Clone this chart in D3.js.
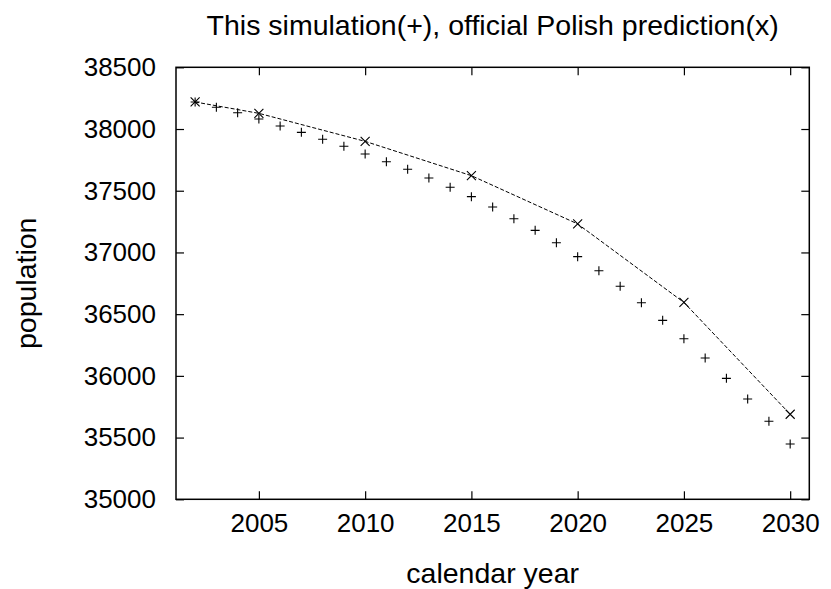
<!DOCTYPE html>
<html>
<head>
<meta charset="utf-8">
<script src="https://cdn.jsdelivr.net/npm/d3@7"></script>
<style>
  body { margin: 0; background: #fff; }
  text { font-family: "Liberation Sans", Arial, sans-serif; fill: #000; }
</style>
</head>
<body>
<div class="chart"></div>
<script>
// data
const years = [2002, 2003, 2004, 2005, 2006, 2007, 2008, 2009, 2010, 2011,
               2012, 2013, 2014, 2015, 2016, 2017, 2018, 2019, 2020, 2021,
               2022, 2023, 2024, 2025, 2026, 2027, 2028, 2029, 2030];
const simPop = [38219, 38176, 38132, 38081, 38024, 37973, 37917, 37860, 37798, 37735,
                37674, 37603, 37528, 37452, 37368, 37273, 37179, 37079, 36966, 36852,
                36726, 36593, 36450, 36301, 36145, 35980, 35813, 35632, 35448];
const officialYears = [2002, 2005, 2010, 2015, 2020, 2025, 2030];
const officialPop = [38219, 38127, 37900, 37622, 37231, 36595, 35689];
const xTicks = [2005, 2010, 2015, 2020, 2025, 2030];
const yTicks = [35000, 35500, 36000, 36500, 37000, 37500, 38000, 38500];

const margin = {top: 67.3, left: 176, right: 21.7, bottom: 89.7};
const W = 831, H = 589;
const width = W - margin.left - margin.right,
    height = H - margin.top - margin.bottom;

const svg = d3.select(".chart")
    .append("svg")
    .attr("width", W)
    .attr("height", H);

const gr = svg.append("g")
    .attr("transform", "translate(" + margin.left + "," + margin.top + ")");

const xScale = d3.scaleLinear()
    .domain([2001.1, 2030.9])
    .range([0, width]);

const yScale = d3.scaleLinear()
    .domain([35000, 38500])
    .range([height, 0]);

// axes, gnuplot style: ticks inward on all four sides
const fs = "26px";
gr.append("g")
    .attr("transform", "translate(0," + height + ")")
    .call(d3.axisBottom(xScale).tickValues(xTicks).tickSize(-8).tickPadding(14).tickFormat(d3.format("d")))
    .call(g => g.selectAll("text").attr("font-size", fs).attr("font-family", null));
gr.append("g")
    .call(d3.axisTop(xScale).tickValues(xTicks).tickSize(-8).tickFormat(""));
gr.append("g")
    .call(d3.axisLeft(yScale).tickValues(yTicks).tickSize(-8).tickPadding(20).tickFormat(d3.format("d")))
    .call(g => g.selectAll("text").attr("font-size", fs).attr("font-family", null));
gr.append("g")
    .attr("transform", "translate(" + width + ",0)")
    .call(d3.axisRight(yScale).tickValues(yTicks).tickSize(-8).tickFormat(""));

gr.selectAll(".domain").remove();
gr.selectAll(".tick line").attr("stroke", "#000").attr("stroke-width", 1.2);

gr.append("rect")
    .attr("width", width)
    .attr("height", height)
    .attr("fill", "none")
    .attr("stroke", "#000")
    .attr("stroke-width", 1.5);

// official prediction, dashed line + x markers
const official = officialYears.map((y, i) => ({year: y, pop: officialPop[i]}));
const line = d3.line()
    .x(d => xScale(d.year))
    .y(d => yScale(d.pop));

gr.append("path")
    .datum(official)
    .attr("d", line)
    .attr("fill", "none")
    .attr("stroke", "#000")
    .attr("stroke-width", 1)
    .attr("stroke-dasharray", "4,2");

const s = 4.5;
gr.selectAll(".cross")
    .data(official)
    .join("path")
    .attr("class", "cross")
    .attr("transform", d => "translate(" + xScale(d.year) + "," + yScale(d.pop) + ")")
    .attr("d", `M${-s},${-s}L${s},${s}M${-s},${s}L${s},${-s}`)
    .attr("stroke", "#000")
    .attr("stroke-width", 1.1);

// simulation, + markers
const sim = years.map((y, i) => ({year: y, pop: simPop[i]}));
const p = 4.5;
gr.selectAll(".plus")
    .data(sim)
    .join("path")
    .attr("class", "plus")
    .attr("transform", d => "translate(" + xScale(d.year) + "," + yScale(d.pop) + ")")
    .attr("d", `M${-p},0L${p},0M0,${-p}L0,${p}`)
    .attr("stroke", "#000")
    .attr("stroke-width", 1.1);

// labels
const lfs = "28.5px";
svg.append("text")
    .attr("x", margin.left + width / 2)
    .attr("y", 35)
    .attr("text-anchor", "middle")
    .attr("font-size", lfs)
    .text("This simulation(+), official Polish prediction(x)");

svg.append("text")
    .attr("x", margin.left + width / 2)
    .attr("y", 583)
    .attr("text-anchor", "middle")
    .attr("font-size", lfs)
    .text("calendar year");

svg.append("text")
    .attr("transform", "translate(36," + (margin.top + height / 2) + ") rotate(-90)")
    .attr("text-anchor", "middle")
    .attr("font-size", lfs)
    .text("population");
</script>
</body>
</html>
